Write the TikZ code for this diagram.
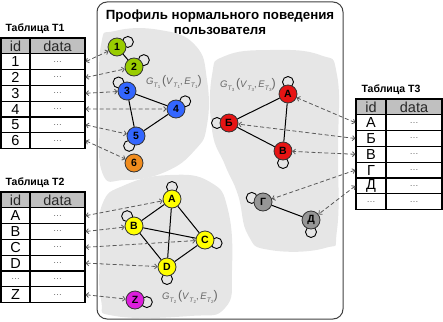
\documentclass[tikz,border=0pt]{standalone}
\usepackage{fontspec}
\setmainfont{Liberation Sans}
\usetikzlibrary{arrows.meta}
\definecolor{cgreen}{RGB}{153,204,0}
\definecolor{cblue}{RGB}{51,102,255}
\definecolor{corange}{RGB}{240,140,30}
\definecolor{cred}{RGB}{230,20,20}
\definecolor{cgray}{RGB}{150,150,150}
\definecolor{cyellow}{RGB}{255,255,0}
\definecolor{cmag}{RGB}{220,30,220}
\definecolor{cblob}{RGB}{230,230,230}
\definecolor{chead}{RGB}{192,192,192}
\newcommand{\tsub}[1]{\raisebox{-0.45ex}{\fontsize{6.5}{6.5}\selectfont\textit{T}\raisebox{-0.35ex}{\fontsize{4.5}{4.5}\selectfont#1}}}
\newcommand{\glab}[1]{\textit{G}\tsub{#1}\,{\fontsize{12.5}{12.5}\selectfont(}\textit{V}\tsub{#1},\,\textit{E}\tsub{#1}{\fontsize{12.5}{12.5}\selectfont)}}
\newcommand{\dt}{{\fontsize{9}{9}\selectfont\color{black!60}\ldots}}
\begin{document}
\begin{tikzpicture}[x=1pt,y=-1pt,
  gnode/.style={circle,draw=black!80,line width=0.8pt,minimum size=18pt,inner sep=0pt,font=\bfseries\fontsize{10.5}{10.5}\selectfont},
  loopc/.style={draw=black,line width=0.9pt},
  edge/.style={draw=black,line width=1pt},
  link/.style={draw=black!65,line width=0.8pt,dash pattern=on 4pt off 2.5pt,{Straight Barb[length=2.5pt,width=5pt]}-{Straight Barb[length=2.5pt,width=5pt]}},
  cell/.style={draw=black,line width=1.2pt,inner sep=0pt,minimum height=15.8pt,font=\fontsize{14.5}{14.5}\selectfont},
  idc/.style={cell,minimum width=29pt},
  datac/.style={cell,minimum width=55pt},
  hd/.style={fill=chead,text=black!85},
  ttl/.style={font=\bfseries\fontsize{10.5}{10.5}\selectfont,anchor=west},
  glabel/.style={text=black!60,font=\fontsize{9.5}{9.5}\selectfont,inner sep=0pt}
]
\useasboundingbox (0,0) rectangle (443,321);
% profile box
\draw[black!75,line width=1pt,rounded corners=10pt] (97,2) rectangle (343,319);
\node[font=\bfseries\fontsize{13.3}{15}\selectfont,align=center] (title) at (220,22.5) {Профиль нормального поведения\\пользователя};
% blobs
\fill[cblob] plot[smooth cycle,tension=0.8] coordinates {(101,45) (115,31) (160,30) (195,45) (207,80) (207,125) (195,150) (165,172) (125,180) (102,172) (100,110)};
\fill[cblob] plot[smooth cycle,tension=0.8] coordinates {(212,75) (225,56) (270,50) (320,55) (337,75) (338,150) (337,230) (325,248) (270,250) (248,235) (238,195) (225,165) (212,130)};
\fill[cblob] plot[smooth cycle,tension=0.8] coordinates {(102,205) (125,185) (170,175) (210,182) (228,210) (232,270) (225,308) (190,316) (115,316) (101,300) (100,250)};
% graph labels
\node[glabel] (g1) at (174,82) {\glab{1}};
\node[glabel] (g3) at (248,85) {\glab{3}};
\node[glabel] (g2) at (190,297) {\glab{2}};
% ---- graph T1
\draw[loopc] (117,47) ++(-25:12) circle[radius=5.5];
\node[gnode,fill=cgreen] (n1) at (117,47) {1};
\draw[loopc] (134,67) ++(-35:12) circle[radius=5.5];
\node[gnode,fill=cgreen] (n2) at (134,67) {2};
\draw[loopc] (127,91) ++(-135:12) circle[radius=5.5];
\node[gnode,fill=cblue] (n3) at (127,91) {3};
\draw[loopc] (176,109) ++(-40:12) circle[radius=5.5];
\node[gnode,fill=cblue] (n4) at (176,109) {4};
\draw[loopc] (136,136) ++(-235:12) circle[radius=5.5];
\node[gnode,fill=cblue] (n5) at (136,136) {5};
\node[gnode,fill=corange] (n6) at (134,163) {6};
\draw[edge] (n1) -- (n2);
\draw[edge] (n3) -- (n4);
\draw[edge] (n3) -- (n5);
\draw[edge] (n4) -- (n5);
% ---- graph T3
\draw[loopc] (288,94) ++(-90:12) circle[radius=5.5];
\node[gnode,fill=cred] (ra) at (288,94) {А};
\draw[loopc] (229,123) ++(180:12) circle[radius=5.5];
\node[gnode,fill=cred] (rb) at (229,123) {Б};
\draw[loopc] (283,151) ++(90:12) circle[radius=5.5];
\node[gnode,fill=cred] (rv) at (283,151) {В};
\draw[loopc] (263,202) ++(-160:12) circle[radius=5.5];
\node[gnode,fill=cgray] (rg) at (263,202) {Г};
\draw[loopc] (311,220) ++(90:12) circle[radius=5.5];
\node[gnode,fill=cgray] (rd) at (311,220) {Д};
\draw[edge] (ra) -- (rb);
\draw[edge] (ra) -- (rv);
\draw[edge] (rb) -- (rv);
\draw[edge] (rg) -- (rd);
% ---- graph T2
\draw[loopc] (172,199) ++(-90:12) circle[radius=5.5];
\node[gnode,fill=cyellow] (ya) at (172,199) {A};
\draw[loopc] (134,226) ++(-125:12) circle[radius=5.5];
\node[gnode,fill=cyellow] (yb) at (134,226) {B};
\draw[loopc] (205,240) ++(15:12) circle[radius=5.5];
\node[gnode,fill=cyellow] (yc) at (205,240) {C};
\draw[loopc] (167,267) ++(90:12) circle[radius=5.5];
\node[gnode,fill=cyellow] (yd) at (167,267) {D};
\draw[loopc] (135,300) ++(10:12) circle[radius=5.5];
\node[gnode,fill=cmag] (yz) at (135,300) {Z};
\draw[edge] (ya) -- (yb);
\draw[edge] (ya) -- (yc);
\draw[edge] (ya) -- (yd);
\draw[edge] (yb) -- (yc);
\draw[edge] (yb) -- (yd);
\draw[edge] (yc) -- (yd);
% ---- table T1
\node[ttl] (t1t) at (2,29) {Таблица T1};
\node[idc,hd] (t1i0) at (15.5,45.9) {id};
\node[datac,hd] (t1d0) at (57.5,45.9) {data};
\foreach \lab [count=\i] in {1,2,3,4,5,6} {
  \node[idc] (t1i\i) at (15.5,45.9+15.8*\i) {\lab};
  \node[datac] (t1d\i) at (57.5,45.9+15.8*\i) {\dt};
}
% ---- table T2
\node[ttl] (t2t) at (2,183) {Таблица T2};
\node[idc,hd] (t2i0) at (15.5,199.9) {id};
\node[datac,hd] (t2d0) at (57.5,199.9) {data};
\foreach \lab [count=\i] in {A,B,C,D,\dt,Z} {
  \node[idc] (t2i\i) at (15.5,199.9+15.8*\i) {\lab};
  \node[datac] (t2d\i) at (57.5,199.9+15.8*\i) {\dt};
}
% ---- table T3
\node[ttl] (t3t) at (358,90) {Таблица T3};
\node[idc,hd,minimum width=30pt] (t3i0) at (371,106.9) {id};
\node[datac,hd,minimum width=56pt] (t3d0) at (414,106.9) {data};
\foreach \lab [count=\i] in {А,Б,В,Г,Д,\dt} {
  \node[idc,minimum width=30pt] (t3i\i) at (371,106.9+15.8*\i) {\lab};
  \node[datac,minimum width=56pt] (t3d\i) at (414,106.9+15.8*\i) {\dt};
}
% ---- links
\draw[link] (t1d1.east) -- (n1);
\draw[link] (t1d2.east) -- (n2);
\draw[link] (t1d3.east) -- (n3);
\draw[link] (t1d4.east) -- (n4);
\draw[link] (t1d5.east) -- (n5);
\draw[link] (t1d6.east) -- (n6);
\draw[link] (t2d1.east) -- (ya);
\draw[link] (t2d2.east) -- (yb);
\draw[link] (t2d3.east) -- (yc);
\draw[link] (t2d4.east) -- (yd);
\draw[link] (t2d6.east) -- (yz);
\draw[link] (t3i1.west) -- (ra);
\draw[link] (t3i2.west) -- (rb);
\draw[link] (t3i3.west) -- (rv);
\draw[link] (t3i4.west) -- (rg);
\draw[link] (t3i5.west) -- (rd);
\end{tikzpicture}
\end{document}
